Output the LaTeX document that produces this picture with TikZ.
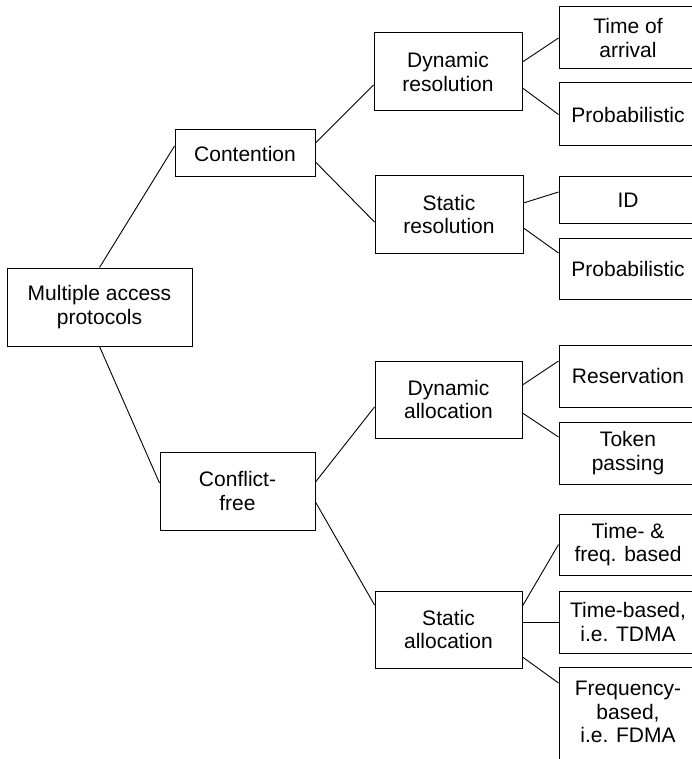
\documentclass[tikz,border=0pt]{standalone}
\usepackage{fontspec}
\setmainfont{Liberation Sans}
\begin{document}
\begin{tikzpicture}[x=1pt,y=-1pt,
  box/.style={draw=black,line width=1pt,align=center,inner sep=0pt,
    font=\fontsize{21}{23.5}\selectfont},
  link/.style={draw=black,line width=0.9pt}]
\useasboundingbox (0,0) rectangle (692,759);
\clip (0,0) rectangle (692,759);
% level 0
\node[box,minimum width=185pt,minimum height=78pt] (root) at (99.5,307) {Multiple access\\protocols};
% level 1
\node[box,minimum width=140pt,minimum height=47pt] (cont) at (245,153.5) {Contention};
\node[box,minimum width=155pt,minimum height=78pt] (cf) at (237.5,491) {Conflict-\\free};
% level 2
\node[box,minimum width=148pt,minimum height=78pt] (dr) at (448,72) {Dynamic\\resolution};
\node[box,minimum width=148pt,minimum height=77pt] (sr) at (449,214.5) {Static\\resolution};
\node[box,minimum width=147pt,minimum height=77pt] (da) at (448.5,399.5) {Dynamic\\allocation};
\node[box,minimum width=147pt,minimum height=77pt] (sa) at (448.5,629.5) {Static\\allocation};
% level 3
\node[box,minimum width=138pt,minimum height=62pt] (toa) at (628,38) {Time of\\arrival};
\node[box,minimum width=138pt,minimum height=63pt] (p1) at (628,114.5) {Probabilistic};
\node[box,minimum width=138pt,minimum height=46pt] (id) at (628,200) {ID};
\node[box,minimum width=138pt,minimum height=61pt] (p2) at (628,268.5) {Probabilistic};
\node[box,minimum width=138pt,minimum height=62pt] (res) at (628,376) {Reservation};
\node[box,minimum width=138pt,minimum height=62pt] (tok) at (628,453) {Token\\passing};
\node[box,minimum width=138pt,minimum height=61pt] (tf) at (628,544.5) {Time- \&\\freq. based};
\node[box,minimum width=138pt,minimum height=62pt] (tb) at (628,622) {Time-based,\\i.e. TDMA};
\node[box,minimum width=138pt,minimum height=113pt] (fb) at (628,723.5) {};
\node[box,draw=none] (fbtext) at (628,712) {Frequency-\\based,\\i.e. FDMA};
% connectors
\draw[link] (root.north) -- ([yshift=7.5pt]cont.west);
\draw[link] (root.south) -- ([yshift=8pt]cf.west);
\draw[link] ([yshift=10.5pt]cont.east) -- ([yshift=-13pt]dr.west);
\draw[link] ([yshift=-8.5pt]cont.east) -- ([yshift=-7.5pt]sr.west);
\draw[link] ([yshift=10pt]dr.east) -- (toa.west);
\draw[link] ([yshift=-16pt]dr.east) -- (p1.west);
\draw[link] ([yshift=11.5pt]sr.east) -- ([yshift=8pt]id.west);
\draw[link] ([yshift=-13.5pt]sr.east) -- ([yshift=15.5pt]p2.west);
\draw[link] ([yshift=9pt]cf.east) -- ([yshift=-7.5pt]da.west);
\draw[link] ([yshift=-11pt]cf.east) -- ([yshift=24.5pt]sa.west);
\draw[link] ([yshift=14.5pt]da.east) -- ([yshift=15pt]res.west);
\draw[link] ([yshift=-13.5pt]da.east) -- ([yshift=16pt]tok.west);
\draw[link] ([yshift=23.5pt]sa.east) -- (tf.west);
\draw[link] ([yshift=7.5pt]sa.east) -- (tb.west);
\draw[link] ([yshift=-27.5pt]sa.east) -- ([yshift=40.5pt]fb.west);
\end{tikzpicture}
\end{document}
